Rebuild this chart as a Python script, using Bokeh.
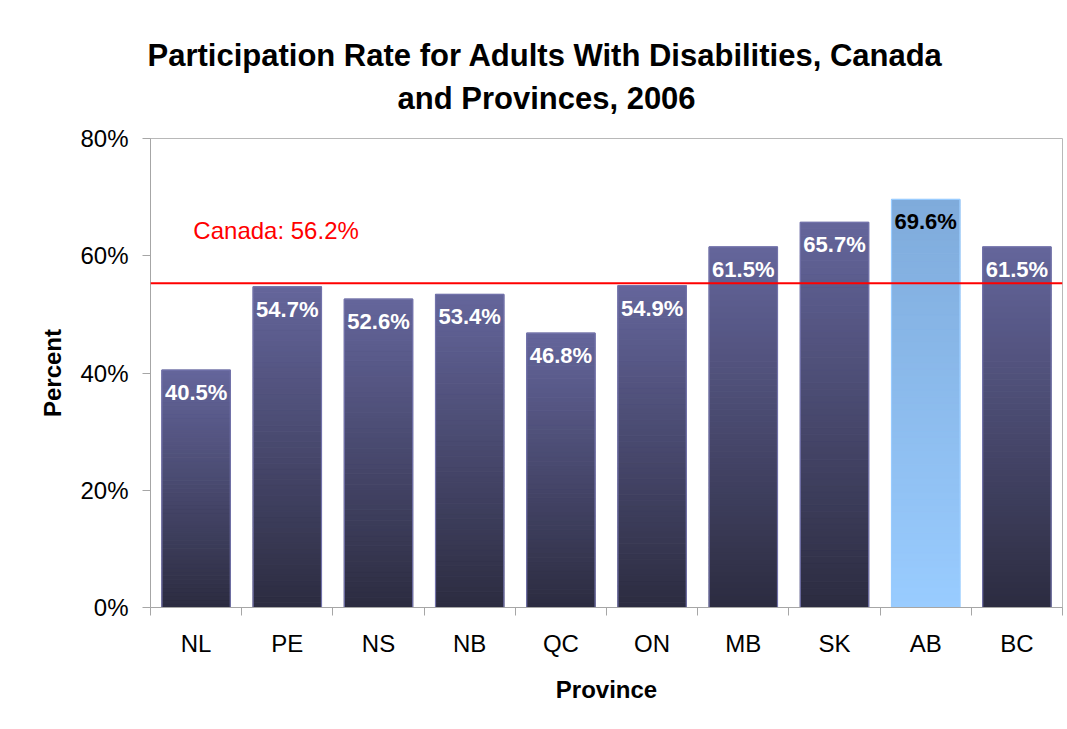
from bokeh.plotting import figure
from bokeh.models import Range1d, FixedTicker, Label, Span, ColumnDataSource, PrintfTickFormatter, Title
from bokeh.core.properties import value
from bokeh.embed import file_html
from bokeh.resources import INLINE

# ---- data ----
provinces = ["NL", "PE", "NS", "NB", "QC", "ON", "MB", "SK", "AB", "BC"]
rates = [40.5, 54.7, 52.6, 53.4, 46.8, 54.9, 61.5, 65.7, 69.6, 61.5]
highlight = "AB"
canada_rate = 56.2
canada_line_level = 55.3  # where the reference line is drawn
y_ticks = [0, 20, 40, 60, 80]
title_line1 = "Participation Rate for Adults With Disabilities, Canada"
title_line2 = "and Provinces, 2006"

FONT = "Liberation Sans"

# ---- styles ----
purple_top, purple_bottom, purple_edge = (0x64, 0x65, 0x9b), (0x2c, 0x2c, 0x40), "#7272aa"
blue_top, blue_bottom, blue_edge = (0x7f, 0xab, 0xdb), (0x99, 0xcc, 0xff), "#99ccff"
AXIS_GRAY = "#a6a6a6"

p = figure(width=1065, height=713, output_backend="svg", toolbar_location=None,
           x_range=Range1d(0, len(provinces)), y_range=Range1d(0, 80),
           min_border_left=150, min_border_right=3, min_border_top=138, min_border_bottom=106)
p.grid.visible = False
p.outline_line_color = "#b8b8b8"
p.outline_line_width = 1

# two-line title: spacer nearest the frame, then line 2, then the main title (line 1) outermost
p.title.text = title_line1
p.title.align = "left"
p.title.offset = -3
p.title.standoff = 6
p.title.text_font = FONT
p.title.text_font_style = "bold"
p.title.text_font_size = "31px"
p.title.text_color = "#000000"
p.add_layout(Title(text=" ", align="left", standoff=17, text_font_size="1px",
                   text_color="#ffffff"), "above")
p.add_layout(Title(text=title_line2, align="left", offset=247, standoff=6,
                   text_font=FONT, text_font_style="bold", text_font_size="31px",
                   text_color="#000000"), "above")

def hexc(c):
    return "#%02x%02x%02x" % tuple(int(round(v)) for v in c)

N = 60
xs, bs, ts, cs = [], [], [], []
ex, etop, ecol, lab_col = [], [], [], []
for i, (prov, v) in enumerate(zip(provinces, rates)):
    top_c, bot_c, edge = (blue_top, blue_bottom, blue_edge) if prov == highlight else (purple_top, purple_bottom, purple_edge)
    for k in range(N):
        f = (k + 0.5) / N
        col = tuple(bot_c[j] + (top_c[j] - bot_c[j]) * f for j in range(3))
        xs.append(i + 0.5)
        bs.append(v * k / N)
        ts.append(v * (k + 1) / N)
        cs.append(hexc(col))
    ex.append(i + 0.5)
    etop.append(v)
    ecol.append(edge)
    lab_col.append("#000000" if prov == highlight else "#ffffff")

seg = ColumnDataSource(dict(x=xs, b=bs, t=ts, c=cs))
p.vbar(x="x", bottom="b", top="t", width=0.75, fill_color="c", line_color="c", line_width=1, source=seg)

bars = ColumnDataSource(dict(x=ex, top=etop, edge=ecol, lab=[f"{v:.1f}%" for v in rates], lc=lab_col))
p.vbar(x="x", bottom=0, top="top", width=0.75, fill_color=None, line_color="edge", line_width=1.2, source=bars)

p.text(x="x", y="top", text="lab", text_color="lc", y_offset=10, text_baseline="top", text_align="center",
       text_font=value(FONT), text_font_style="bold", text_font_size="22px", source=bars)

# Canada line & label
p.add_layout(Span(location=canada_line_level, dimension="width", line_color="#ff0000", line_width=2))
p.add_layout(Label(x=0.47, y=64.3, text=f"Canada: {canada_rate}%", text_color="#ff0000",
                   text_font=FONT, text_font_size="24px", text_baseline="middle", text_align="left"))

# x axis
xa = p.xaxis[0]
xa.ticker = FixedTicker(ticks=[i + 0.5 for i in range(len(provinces))],
                        minor_ticks=list(range(len(provinces) + 1)))
xa.major_label_overrides = {i + 0.5: prov for i, prov in enumerate(provinces)}
xa.major_tick_line_color = None
xa.major_tick_out = 0
xa.major_tick_in = 0
xa.minor_tick_out = 8
xa.minor_tick_in = 0
xa.minor_tick_line_color = AXIS_GRAY
xa.axis_line_color = AXIS_GRAY
xa.major_label_text_font = FONT
xa.major_label_text_font_size = "24px"
xa.major_label_text_color = "#000000"
xa.major_label_standoff = 14
xa.axis_label = "Province"
xa.axis_label_text_font = FONT
xa.axis_label_text_font_size = "24px"
xa.axis_label_text_font_style = "bold"
xa.axis_label_text_color = "#000000"
xa.axis_label_standoff = 16

# y axis
ya = p.yaxis[0]
ya.ticker = FixedTicker(ticks=y_ticks, minor_ticks=[])
ya.formatter = PrintfTickFormatter(format="%d%%")
ya.major_tick_out = 8
ya.major_tick_in = 0
ya.major_tick_line_color = AXIS_GRAY
ya.axis_line_color = AXIS_GRAY
ya.minor_tick_line_color = None
ya.major_label_text_font = FONT
ya.major_label_text_font_size = "24px"
ya.major_label_text_color = "#000000"
ya.major_label_standoff = 14
ya.axis_label = "Percent"
ya.axis_label_text_font = FONT
ya.axis_label_text_font_size = "24px"
ya.axis_label_text_font_style = "bold"
ya.axis_label_text_color = "#000000"
ya.axis_label_standoff = 11

open("out.html", "w").write(file_html(p, INLINE))
